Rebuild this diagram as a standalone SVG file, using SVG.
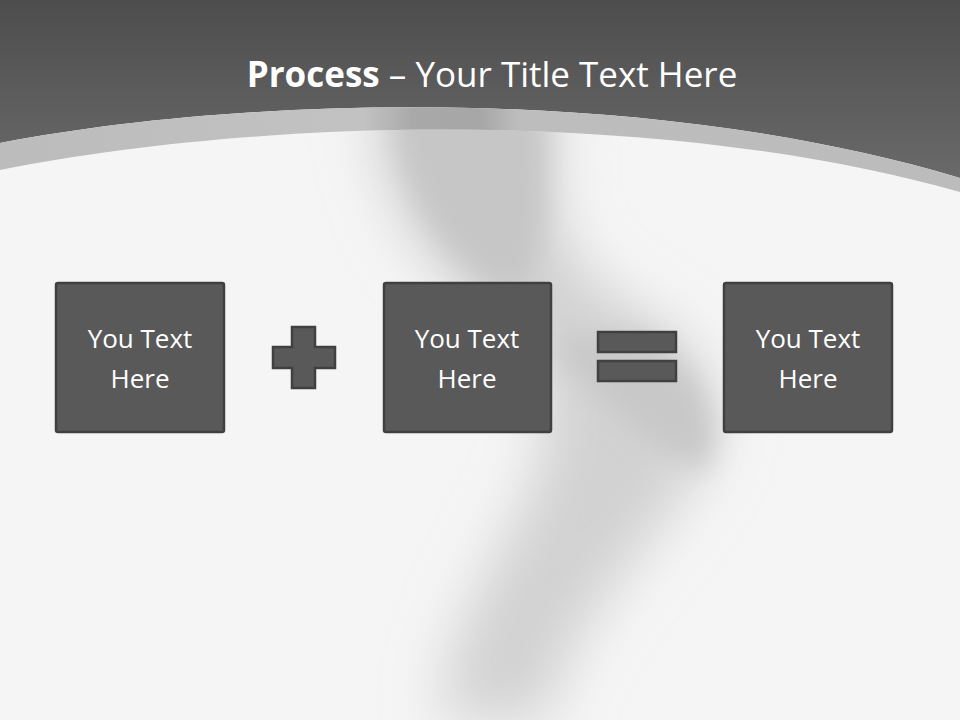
<svg xmlns="http://www.w3.org/2000/svg" width="960" height="720" viewBox="0 0 960 720">
  <defs>
    <linearGradient id="topGrad" x1="0" y1="0" x2="0" y2="200" gradientUnits="userSpaceOnUse">
      <stop offset="0" stop-color="#4d4d4d"/>
      <stop offset="1" stop-color="#6d6d6d"/>
    </linearGradient>
    <linearGradient id="bandGrad" x1="0" y1="0" x2="960" y2="0" gradientUnits="userSpaceOnUse">
      <stop offset="0" stop-color="#bcbcbc"/>
      <stop offset="0.38" stop-color="#c2c2c2"/>
      <stop offset="0.43" stop-color="#a9a9a9"/>
      <stop offset="0.5" stop-color="#a6a6a6"/>
      <stop offset="0.54" stop-color="#bdbdbd"/>
      <stop offset="1" stop-color="#bcbcbc"/>
    </linearGradient>
    <filter id="blur" x="-50%" y="-50%" width="200%" height="200%">
      <feGaussianBlur stdDeviation="28"/>
    </filter>
    <filter id="blur2" x="-50%" y="-50%" width="200%" height="200%">
      <feGaussianBlur stdDeviation="14"/>
    </filter>
    <clipPath id="clipWhite"><path d="M0,170 C250,120 650,105 960,192 V720 H0 Z"/></clipPath>
    <style>
      .box { fill: #595959; stroke: #404040; stroke-width: 2.5; }
      .sym { fill: #595959; stroke: #404040; stroke-width: 2.5; }
      .lbl { font-family: "Open Sans", "Liberation Sans", sans-serif; font-size: 26px; fill: #ffffff; text-anchor: middle; }
      .title { font-family: "Open Sans", "Liberation Sans", sans-serif; font-size: 35px; fill: #ffffff; }
    </style>
  </defs>

  <!-- background -->
  <rect x="0" y="0" width="960" height="720" fill="#f5f5f5"/>
  <g id="shadow" clip-path="url(#clipWhite)">
    <path d="M370,100 C380,200 420,260 470,300 C520,340 560,380 540,460 C520,540 450,600 440,720 L550,720 C555,640 640,560 700,470 C740,400 700,340 620,300 C560,260 540,200 560,100 Z" fill="#d2d2d2" filter="url(#blur)"/>
    <path d="M390,100 C400,200 450,260 500,290 C540,300 548,240 545,100 Z" fill="#c6c6c6" filter="url(#blur2)"/>
    <path d="M550,340 C600,400 650,450 705,470 C725,420 700,370 640,335 Z" fill="#c8c8c8" filter="url(#blur2)"/>
  </g>

  <!-- header -->
  <path d="M0,0 H960 V178 C650,85 250,95 0,143 Z" fill="url(#topGrad)"/>
  <path d="M0,143 C250,95 650,85 960,178 V192 C650,105 250,120 0,170 Z" fill="url(#bandGrad)"/>

  <text class="title" x="492" y="87" text-anchor="middle"><tspan font-weight="bold">Process</tspan> – Your Title Text Here</text>

  <g id="box1">
    <rect class="box" x="56" y="283" width="168" height="149" rx="2"/>
    <text class="lbl" x="140" y="348">You Text</text>
    <text class="lbl" x="140" y="388">Here</text>
  </g>
  <g id="plus">
    <path class="sym" d="M292,327 H315 V347 H335 V368 H315 V388 H292 V368 H273 V347 H292 Z"/>
  </g>
  <g id="box2">
    <rect class="box" x="384" y="283" width="167" height="149" rx="2"/>
    <text class="lbl" x="467" y="348">You Text</text>
    <text class="lbl" x="467" y="388">Here</text>
  </g>
  <g id="equals">
    <rect class="sym" x="598" y="332" width="78" height="20"/>
    <rect class="sym" x="598" y="361" width="78" height="20"/>
  </g>
  <g id="box3">
    <rect class="box" x="724" y="283" width="168" height="149" rx="2"/>
    <text class="lbl" x="808" y="348">You Text</text>
    <text class="lbl" x="808" y="388">Here</text>
  </g>
  <g id="connectors"/>
</svg>
